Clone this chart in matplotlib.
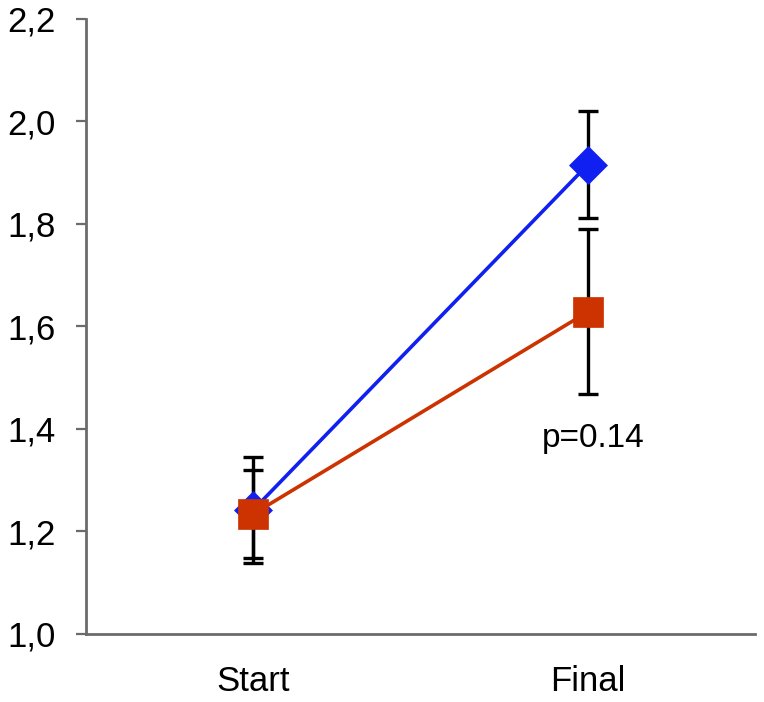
import matplotlib
matplotlib.use("Agg")
import matplotlib.pyplot as plt

# ---- data ----
groups = ["Start", "Final"]
x_pos = [1, 2]

blue_mean = [1.242, 1.915]
blue_err = [0.104, 0.104]

orange_mean = [1.234, 1.628]
orange_err = [0.086, 0.161]

y_ticks = [1.0, 1.2, 1.4, 1.6, 1.8, 2.0, 2.2]
y_tick_labels = ["1,0", "1,2", "1,4", "1,6", "1,8", "2,0", "2,2"]

p_text = "p=0.14"

# ---- style ----
plt.rcParams['font.family'] = ['Liberation Sans', 'DejaVu Sans']

blue = '#1020f0'
orange = '#cc3300'
spine_col = '#6b6b6b'

fig = plt.figure(figsize=(7.64, 7.02), dpi=100)
ax = fig.add_axes([0.1126, 0.0969, 0.8756, 0.8766])

# error bars underneath the markers
ax.errorbar(x_pos, blue_mean, yerr=blue_err, fmt='none', ecolor='black',
            elinewidth=2.4, capsize=7.5, capthick=2.4, zorder=2)
ax.errorbar(x_pos, orange_mean, yerr=orange_err, fmt='none', ecolor='black',
            elinewidth=2.4, capsize=7.5, capthick=2.4, zorder=2)

ax.plot(x_pos, blue_mean, color=blue, linewidth=2.6, marker='D',
        markersize=19, markeredgewidth=0.5, markeredgecolor=blue, zorder=3)
ax.plot(x_pos, orange_mean, color=orange, linewidth=2.6, marker='s',
        markersize=21.5, markeredgewidth=0.5, markeredgecolor=orange, zorder=4)

ax.text(2.015, 1.382, p_text, fontsize=24, ha='center', va='center')

# ---- axes ----
ax.set_xlim(0.5, 2.5)
ax.set_ylim(1.0, 2.2)
ax.set_xticks(x_pos)
ax.set_xticklabels(groups, fontsize=25)
ax.set_yticks(y_ticks)
ax.set_yticklabels(y_tick_labels, fontsize=25)

ax.tick_params(axis='x', length=0, pad=22)
ax.tick_params(axis='y', length=7, width=1.6, color=spine_col, pad=15)

for side in ['top', 'right']:
    ax.spines[side].set_visible(False)
for side in ['left', 'bottom']:
    ax.spines[side].set_color(spine_col)
    ax.spines[side].set_linewidth(2.0)

fig.savefig("out.png", dpi=100)
